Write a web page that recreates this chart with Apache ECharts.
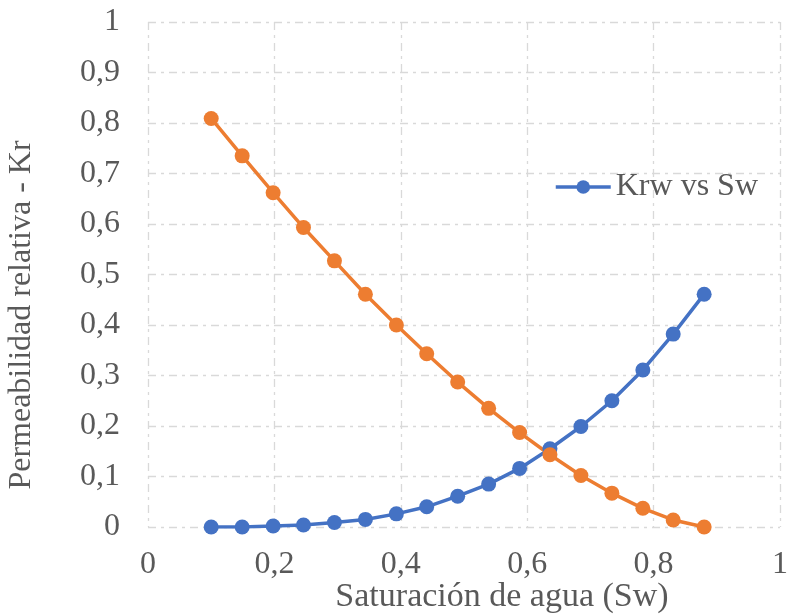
<!DOCTYPE html>
<html>
<head>
<meta charset="utf-8">
<script src="https://cdn.jsdelivr.net/npm/echarts@6/dist/echarts.min.js"></script>
<style>
html,body{margin:0;padding:0;background:#fff;}
#chart{width:791px;height:614px;}
</style>
</head>
<body>
<div id="chart"></div>
<script>
var sw = [0.1, 0.149, 0.198, 0.246, 0.295, 0.344, 0.393, 0.441, 0.49, 0.539, 0.588, 0.636, 0.685, 0.734, 0.783, 0.831, 0.88];
var krw = [0, 0, 0.002, 0.004, 0.009, 0.015, 0.026, 0.040, 0.061, 0.085, 0.116, 0.155, 0.199, 0.250, 0.311, 0.382, 0.461];
var kro = [0.809, 0.735, 0.662, 0.593, 0.527, 0.461, 0.400, 0.343, 0.287, 0.235, 0.187, 0.143, 0.102, 0.067, 0.037, 0.014, 0];
var krwName = 'Krw vs Sw';
var kroName = 'Kro vs Sw';
var xName = 'Saturación de agua (Sw)';
var yName = 'Permeabilidad relativa - Kr';

function pairs(xs, ys) { return xs.map(function (x, i) { return [x, ys[i]]; }); }
function fmt(v) {
  var r = Math.round(v * 10) / 10;
  return String(r).replace('.', ',');
}

var font = 'Liberation Serif';
var textColor = '#595959';
var gridLine = { color: '#d9d9d9', width: 1.3, type: [8, 5, 3, 5] };

var chart = echarts.init(document.getElementById('chart'), null, { renderer: 'canvas' });
chart.setOption({
  animation: false,
  backgroundColor: '#ffffff',
  textStyle: { fontFamily: font },
  grid: { left: 148, right: 6, top: 22, bottom: 87, containLabel: false },
  legend: {
    data: [krwName],
    left: 549,
    top: 166,
    itemWidth: 55,
    itemHeight: 17,
    lineStyle: { width: 3.5 },
    textStyle: { fontFamily: font, fontSize: 32, color: textColor }
  },
  xAxis: {
    type: 'value', min: 0, max: 1, interval: 0.2,
    axisLine: { show: false }, axisTick: { show: false },
    axisLabel: { fontFamily: font, fontSize: 32, color: textColor, margin: 22,
      formatter: function (v) { return fmt(v); } },
    splitLine: { show: true, lineStyle: gridLine }
  },
  yAxis: {
    type: 'value', min: 0, max: 1, interval: 0.1,
    axisLine: { show: false }, axisTick: { show: false },
    axisLabel: { fontFamily: font, fontSize: 32, color: textColor, margin: 28,
      formatter: function (v) { return fmt(v); } },
    splitLine: { show: true, lineStyle: gridLine }
  },
  graphic: [
    { type: 'text', x: 502, y: 597,
      style: { text: xName, fontFamily: font, fontSize: 34, fill: textColor, align: 'center', verticalAlign: 'middle' } },
    { type: 'text', x: 22, y: 315, rotation: Math.PI / 2,
      style: { text: yName, fontFamily: font, fontSize: 32, fill: textColor, align: 'center', verticalAlign: 'middle' } }
  ],
  series: [
    { name: krwName, type: 'line', data: pairs(sw, krw), symbol: 'circle', symbolSize: 15,
      itemStyle: { color: '#4472C4' }, lineStyle: { color: '#4472C4', width: 3.5 } },
    { name: kroName, type: 'line', data: pairs(sw, kro), symbol: 'circle', symbolSize: 15,
      itemStyle: { color: '#ED7D31' }, lineStyle: { color: '#ED7D31', width: 3.5 } }
  ]
});
</script>
</body>
</html>
